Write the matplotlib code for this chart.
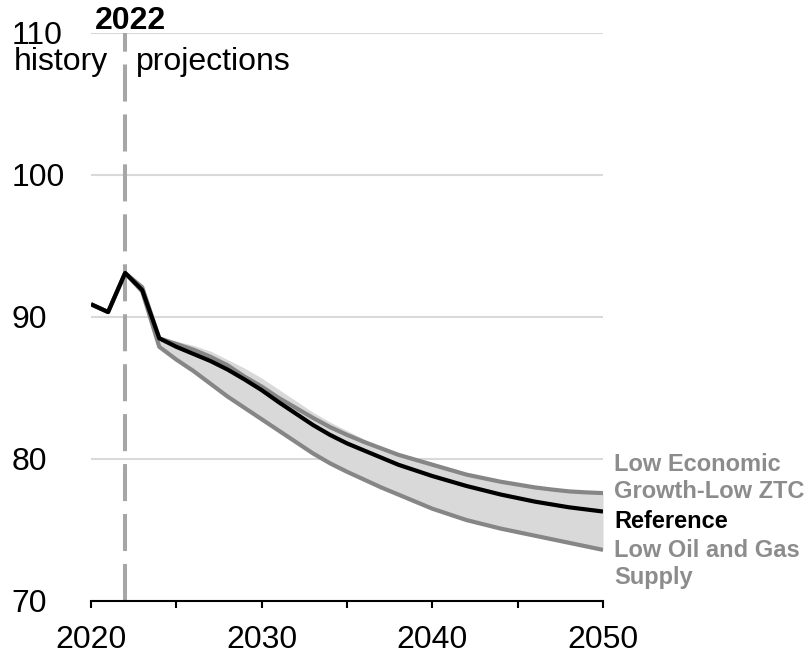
import numpy as np
import matplotlib
matplotlib.use("Agg")
import matplotlib.pyplot as plt

plt.rcParams['font.family'] = ['Liberation Sans', 'DejaVu Sans']

years = list(range(2020, 2051))

reference = [90.9, 90.35, 93.1, 91.9, 88.5, 87.9, 87.4, 86.9, 86.3, 85.6,
             84.85, 84.0, 83.2, 82.4, 81.7, 81.1, 80.6, 80.1, 79.6, 79.2,
             78.8, 78.45, 78.1, 77.8, 77.5, 77.25, 77.0, 76.8, 76.6, 76.45, 76.3]

low_econ = [90.9, 90.35, 93.1, 92.1, 88.5, 88.1, 87.7, 87.2, 86.6, 85.8,
            85.1, 84.3, 83.6, 82.9, 82.25, 81.7, 81.2, 80.75, 80.3, 79.95,
            79.6, 79.25, 78.9, 78.65, 78.4, 78.2, 78.0, 77.85, 77.72, 77.65, 77.6]

low_oil = [90.9, 90.35, 93.1, 91.8, 87.9, 87.0, 86.2, 85.3, 84.4, 83.6,
           82.8, 82.0, 81.2, 80.4, 79.7, 79.1, 78.55, 78.0, 77.5, 77.0,
           76.5, 76.1, 75.7, 75.4, 75.1, 74.85, 74.6, 74.35, 74.1, 73.85, 73.6]

# top of the range of all side cases (other cases sit above low econ early on)
range_top = [90.9, 90.35, 93.1, 92.1, 88.5, 88.3, 88.0, 87.6, 87.0, 86.4,
             85.7, 84.9, 84.1, 83.3, 82.6, 82.0, 81.4, 80.8, 80.3, 79.95,
             79.6, 79.25, 78.9, 78.65, 78.4, 78.2, 78.0, 77.85, 77.72, 77.65, 77.6]

labels = [("Low Economic", 79.58, "#8c8c8c"),
          ("Growth-Low ZTC", 77.68, "#8c8c8c"),
          ("Reference", 75.63, "black"),
          ("Low Oil and Gas", 73.59, "#8c8c8c"),
          ("Supply", 71.62, "#8c8c8c")]

fig = plt.figure(figsize=(8.06, 6.54), dpi=100)
ax = fig.add_axes([91/806, 53/654, 512/806, 568/654])

ax.fill_between(years, low_oil, range_top, color="#d9d9d9", lw=0, zorder=1)
ax.plot(years, low_econ, color="#868686", lw=3, zorder=3, solid_capstyle='butt')
ax.plot(years, low_oil, color="#868686", lw=3, zorder=3, solid_capstyle='butt')
ax.plot(years, reference, color="black", lw=3, zorder=4, solid_capstyle='butt')

ax.axvline(2022, color="#a6a6a6", lw=2.9, dashes=(9.2, 3.2), zorder=2)

ax.set_xlim(2020, 2050)
ax.set_ylim(70, 110)
ax.set_yticks([70, 80, 90, 100, 110])
ax.set_xticks([2020, 2030, 2040, 2050])
ax.set_xticks([2025, 2035, 2045], minor=True)
ax.grid(axis='y', color="#d9d9d9", lw=1.5, zorder=0)
ax.set_axisbelow(True)

for s in ['left', 'right', 'top']:
    ax.spines[s].set_visible(False)
ax.spines['bottom'].set_linewidth(1.5)

ax.tick_params(axis='x', which='both', direction='out', length=5, width=1.5,
               labelsize=23, pad=12)
ax.tick_params(axis='y', length=0, labelsize=23, pad=57)
for t in ax.get_yticklabels():
    t.set_horizontalalignment('left')

ax.text(2022.3, 110.3, "2022", fontsize=23, fontweight='bold', ha='center',
        va='baseline', clip_on=False)
ax.text(2021.0, 107.4, "history", fontsize=23, ha='right', va='baseline')
ax.text(2022.65, 107.4, "projections", fontsize=23, ha='left', va='baseline')

for txt, yv, c in labels:
    ax.text(2050.65, yv, txt, fontsize=17, fontweight='bold', color=c,
            ha='left', va='center', clip_on=False)

fig.savefig("out.png", dpi=100)
